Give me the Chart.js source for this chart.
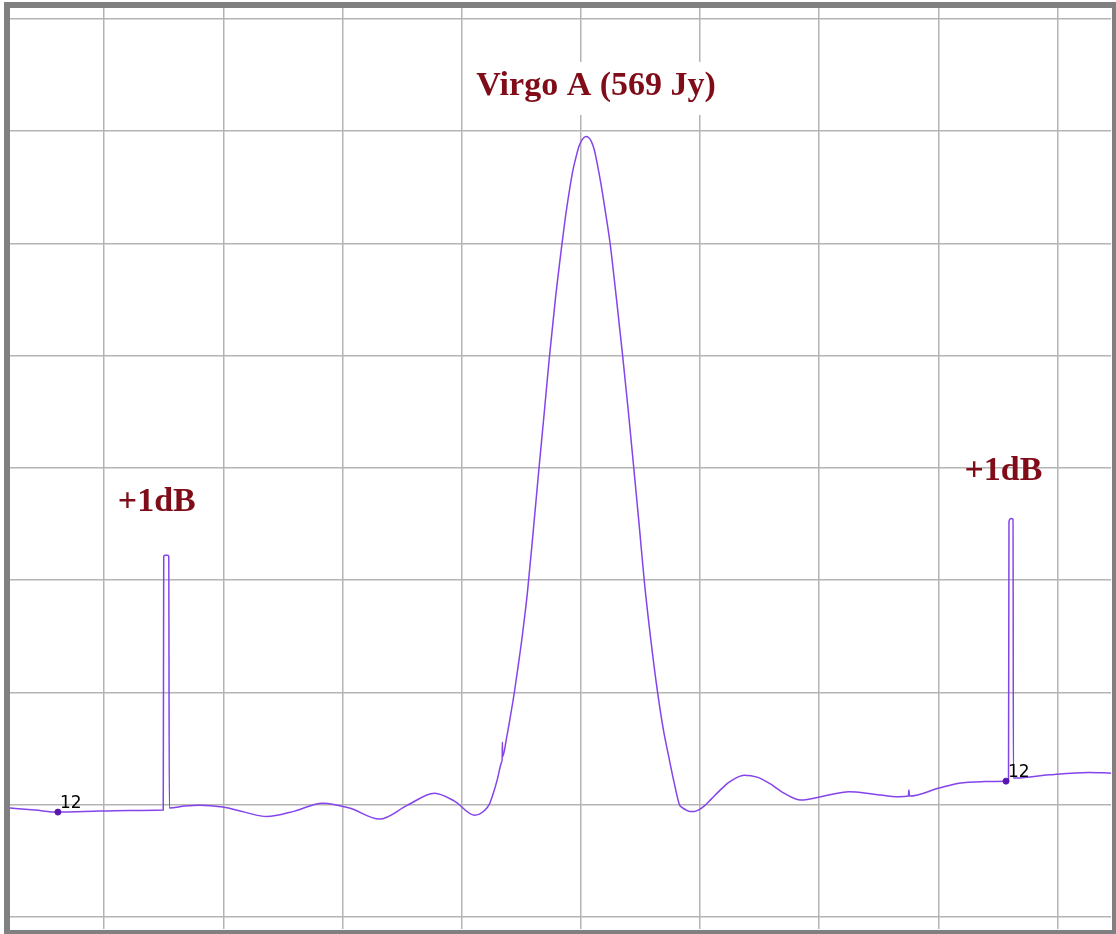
<!DOCTYPE html>
<html>
<head>
<meta charset="utf-8">
<script src="https://cdn.jsdelivr.net/npm/chart.js@4.4.1/dist/chart.umd.min.js"></script>
<style>
  body { margin: 0; background: #fff; }
  #wrap { position: absolute; left: 0; top: 0; width: 1116px; height: 934px; }
</style>
</head>
<body>
<div id="wrap"><canvas id="myChart" width="1116" height="934"></canvas></div>
<script>
// drift scan, x and y in grid divisions
var scanX = [-0.790, -0.581, -0.388, -0.036, 0.216, 0.496, 0.500, 0.513, 0.534, 0.542, 0.547,
    0.676, 0.802, 0.995, 1.179, 1.364, 1.598, 1.833, 2.059, 2.311, 2.546, 2.772, 2.940, 3.107,
    3.149, 3.191, 3.233, 3.267, 3.300, 3.334, 3.340, 3.342, 3.344, 3.376, 3.409, 3.443, 3.476,
    3.510, 3.552, 3.602, 3.648, 3.694, 3.736, 3.786, 3.842, 3.870, 3.904, 3.931, 3.960, 3.987,
    4.013, 4.044, 4.067, 4.088, 4.113, 4.138, 4.169, 4.205, 4.245, 4.298, 4.350, 4.398, 4.444,
    4.490, 4.532, 4.587, 4.644, 4.692, 4.742, 4.784, 4.826, 4.851, 4.885, 4.918, 4.952,
    4.985, 5.035, 5.094, 5.161, 5.245, 5.370, 5.479, 5.580, 5.705, 5.846, 6.041,
    6.250, 6.460, 6.669, 6.749, 6.753, 6.758, 7.006, 7.173, 7.383, 7.568, 7.589, 7.593, 7.610,
    7.627, 7.630, 7.652, 7.929, 8.264, 8.449];
var scanY = [0.970, 0.952, 0.934, 0.943, 0.948, 0.952, 3.212, 3.221, 3.221, 3.212, 0.970,
    0.988, 0.996, 0.979, 0.934, 0.894, 0.943, 1.014, 0.970, 0.872, 0.996, 1.103, 1.032, 0.907,
    0.916, 0.948, 1.005, 1.106, 1.228, 1.375, 1.410, 1.557, 1.428, 1.589, 1.786, 2.006, 2.249,
    2.514, 2.891, 3.452, 3.986, 4.502, 4.982, 5.498, 5.996, 6.228, 6.468, 6.637, 6.770, 6.871,
    6.926, 6.951, 6.940, 6.908, 6.833, 6.708, 6.530, 6.290, 6.005, 5.516, 5.009, 4.511, 4.004,
    3.488, 2.998, 2.473, 2.002, 1.673, 1.406, 1.192, 1.005, 0.974, 0.952, 0.940, 0.940,
    0.952, 0.988, 1.050, 1.121, 1.201, 1.263, 1.246, 1.192, 1.103, 1.041, 1.077,
    1.115, 1.094, 1.070, 1.077, 1.130, 1.077, 1.148, 1.192, 1.206, 1.210, 1.214, 3.523, 3.550,
    3.541, 1.237, 1.237, 1.266, 1.288, 1.281];

// markers
var markX = [-0.388, 7.568];
var markY = [0.934, 1.210];
var markLabels = ["12", "12"];

// text notes
var noteText = ["Virgo A (569 Jy)", "+1dB", "+1dB"];
var noteX = [4.128, 0.442, 7.546];
var noteY = [7.322, 3.612, 3.888];

var scanData = [];
for (var i = 0; i < scanX.length; i++) {
    scanData.push({x: scanX[i], y: scanY[i]});
}
var markData = [];
for (var j = 0; j < markX.length; j++) {
    markData.push({x: markX[j], y: markY[j]});
}

var extras = {
    id: 'extras',
    beforeDraw: function(chart) {
        var c = chart.ctx;
        c.save();
        c.fillStyle = '#ffffff';
        c.fillRect(0, 0, chart.width, chart.height);
        c.restore();
    },
    afterDatasetsDraw: function(chart) {
        var c = chart.ctx;
        var xs = chart.scales.x, ys = chart.scales.y;
        c.save();
        // point labels
        c.fillStyle = '#000000';
        c.font = '17px "DejaVu Sans"';
        c.textAlign = 'left';
        c.textBaseline = 'alphabetic';
        for (var k = 0; k < markX.length; k++) {
            c.fillText(markLabels[k], xs.getPixelForValue(markX[k]) + 2, ys.getPixelForValue(markY[k]) - 4);
        }
        // notes
        c.font = 'bold 34px "Liberation Serif"';
        c.textAlign = 'center';
        for (var n = 0; n < noteText.length; n++) {
            var px = xs.getPixelForValue(noteX[n]);
            var py = ys.getPixelForValue(noteY[n]);
            if (n === 0) {
                var w = c.measureText(noteText[n]).width;
                c.fillStyle = '#ffffff';
                c.fillRect(px - w / 2 - 8, py - 33, w + 16, 53);
            }
            c.fillStyle = '#7f0c18';
            c.fillText(noteText[n], px, py);
        }
        // frame
        c.fillStyle = '#808080';
        c.fillRect(4, 2, 1112, 6);
        c.fillRect(4, 2, 6, 932);
        c.fillRect(1112, 2, 4, 932);
        c.fillRect(4, 930, 1112, 4);
        c.restore();
    }
};

var ctx = document.getElementById('myChart');

var scanChart = new Chart(ctx, {
    type: 'line',
    data: {
        datasets: [{
            label: 'scan',
            data: scanData,
            borderColor: '#8444ea',
            borderWidth: 1.5,
            pointRadius: 0,
            cubicInterpolationMode: 'monotone',
            fill: false,
            order: 2
        }, {
            label: 'marks',
            data: markData,
            showLine: false,
            pointRadius: 3,
            pointBackgroundColor: '#5818b0',
            pointBorderColor: '#5818b0',
            order: 1
        }]
    },
    options: {
        responsive: false,
        animation: false,
        layout: { padding: { left: 10, top: 8, right: 4, bottom: 4 } },
        plugins: {
            legend: { display: false },
            tooltip: { enabled: false }
        },
        scales: {
            x: {
                type: 'linear',
                min: -0.790,
                max: 8.449,
                border: { display: false },
                grid: { color: '#b4b4b4', lineWidth: 1.5, drawTicks: false },
                ticks: { display: false, stepSize: 1, includeBounds: false }
            },
            y: {
                type: 'linear',
                min: -0.107,
                max: 8.096,
                border: { display: false },
                grid: { color: '#b4b4b4', lineWidth: 1.5, drawTicks: false },
                ticks: { display: false, stepSize: 1, includeBounds: false }
            }
        }
    },
    plugins: [extras]
});
</script>
</body>
</html>
